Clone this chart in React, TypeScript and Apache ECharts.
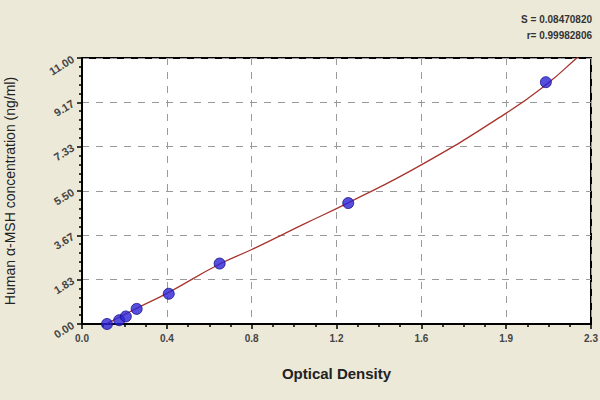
import React, { useEffect, useRef } from "react";
import * as echarts from "echarts";

const xTickLabels = ["0.0", "0.4", "0.8", "1.2", "1.6", "1.9", "2.3"];
const yTickLabels = ["0.00", "1.83", "3.67", "5.50", "7.33", "9.17", "11.00"];

const odValues = [0.113, 0.168, 0.198, 0.247, 0.392, 0.622, 1.203, 2.096];
const concValues = [0, 0.156, 0.312, 0.625, 1.25, 2.5, 5, 10];

const fitX = [0.113, 0.25, 0.39, 0.62, 0.767, 1.0, 1.2, 1.533, 1.917, 2.1, 2.236, 2.3];
const fitY = [0.02, 0.66, 1.3, 2.47, 3.08, 4.12, 5.0, 6.58, 8.72, 9.92, 11.0, 11.5];

const statLines = ["S = 0.08470820", "r= 0.99982806"];

export default function App() {
  const ref = useRef<HTMLDivElement>(null);
  useEffect(() => {
    if (!ref.current) return;
    const chart = echarts.init(ref.current, undefined, { renderer: "svg" });
    const xInt = 2.3 / 6;
    const yInt = 11 / 6;
    chart.setOption({
      animation: false,
      backgroundColor: "#ECE9D8",
      grid: {
        left: 82,
        right: 9,
        top: 58,
        bottom: 76,
        show: true,
        outerBoundsMode: "none",
        containLabel: false,
        backgroundColor: "#ffffff",
        borderColor: "#000",
        borderWidth: 2,
      },
      xAxis: {
        type: "value",
        min: 0,
        max: 2.3,
        interval: xInt,
        name: "Optical Density",
        nameLocation: "middle",
        nameGap: 42,
        nameTextStyle: { fontFamily: "Liberation Sans", fontSize: 15, fontWeight: "bold", color: "#222" },
        axisLine: { show: true, onZero: false, lineStyle: { color: "#000", width: 2 } },
        axisTick: { show: true, length: 5, lineStyle: { color: "#000", width: 1.5 } },
        minorTick: { show: true, splitNumber: 4, length: 3, lineStyle: { color: "#000", width: 1.5 } },
        axisLabel: {
          fontFamily: "Liberation Sans",
          fontSize: 10,
          fontWeight: "bold",
          color: "#444",
          margin: 9,
          formatter: (v: number) => xTickLabels[Math.round(v / xInt)] ?? "",
        },
        splitLine: { show: true, lineStyle: { color: "#9a9a9a", type: [7, 7], width: 1 } },
      },
      yAxis: {
        type: "value",
        min: 0,
        max: 11,
        interval: yInt,
        name: "Human α-MSH concentration (ng/ml)",
        nameLocation: "middle",
        nameGap: 65,
        nameTextStyle: { fontFamily: "Liberation Sans", fontSize: 14, color: "#222" },
        axisLine: { show: true, onZero: false, lineStyle: { color: "#000", width: 2 } },
        axisTick: { show: true, length: 5, lineStyle: { color: "#000", width: 1.5 } },
        minorTick: { show: true, splitNumber: 5, length: 3, lineStyle: { color: "#000", width: 1.5 } },
        axisLabel: {
          fontFamily: "Liberation Sans",
          fontSize: 11,
          fontWeight: "bold",
          color: "#444",
          rotate: 32,
          margin: 9,
          formatter: (v: number) => yTickLabels[Math.round(v / yInt)] ?? "",
        },
        splitLine: { show: true, lineStyle: { color: "#9a9a9a", type: [7, 7], width: 1 } },
      },
      series: [
        {
          type: "line",
          data: fitX.map((x, i) => [x, fitY[i]]),
          smooth: true,
          showSymbol: false,
          symbol: "none",
          clip: true,
          lineStyle: { color: "#a8342e", width: 1.3 },
          z: 2,
        },
        {
          type: "scatter",
          data: odValues.map((x, i) => [x, concValues[i]]),
          symbol: "circle",
          symbolSize: 11,
          itemStyle: { color: "#2a22d6", borderColor: "#15108a", borderWidth: 1 },
          z: 3,
        },
      ],
      graphic: statLines.map((t, i) => ({
        type: "text",
        right: 8,
        top: 14 + i * 16,
        style: { text: t, fontFamily: "Liberation Sans", fontSize: 10, fontWeight: "bold", fill: "#333" },
      })),
    });
    return () => chart.dispose();
  }, []);
  return <div ref={ref} style={{ width: 600, height: 400, position: "fixed", left: 0, top: 0 }} />;
}
